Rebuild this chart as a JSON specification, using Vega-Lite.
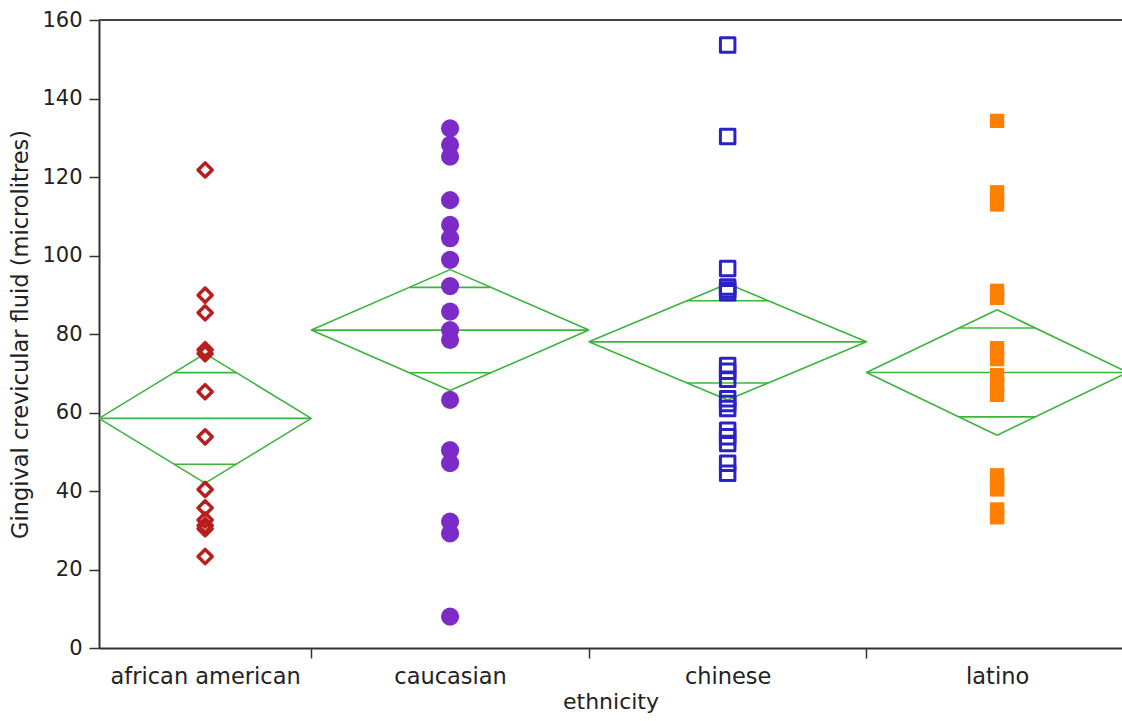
{
  "$schema": "https://vega.github.io/schema/vega-lite/v6.json",
  "width": 1023,
  "height": 628,
  "autosize": {"type": "none"},
  "padding": {"left": 99, "top": 20, "right": 0, "bottom": 73},
  "background": "white",
  "config": {
    "view": {"stroke": null},
    "font": "DejaVu Sans",
    "axis": {
      "grid": false,
      "domainColor": "#333333",
      "domainWidth": 2,
      "tickColor": "#333333",
      "tickWidth": 1.5,
      "labelColor": "#222222",
      "titleColor": "#222222",
      "titleFontWeight": "normal",
      "labelLimit": 400
    }
  },
  "datasets": {
    "obs": [
      {"ethnicity": "african american", "gcf": 121.8},
      {"ethnicity": "african american", "gcf": 89.9},
      {"ethnicity": "african american", "gcf": 85.4},
      {"ethnicity": "african american", "gcf": 76.0},
      {"ethnicity": "african american", "gcf": 75.0},
      {"ethnicity": "african american", "gcf": 65.3},
      {"ethnicity": "african american", "gcf": 53.8},
      {"ethnicity": "african american", "gcf": 40.4},
      {"ethnicity": "african american", "gcf": 35.7},
      {"ethnicity": "african american", "gcf": 32.6},
      {"ethnicity": "african american", "gcf": 31.2},
      {"ethnicity": "african american", "gcf": 30.4},
      {"ethnicity": "african american", "gcf": 23.3},
      {"ethnicity": "caucasian", "gcf": 132.4},
      {"ethnicity": "caucasian", "gcf": 128.2},
      {"ethnicity": "caucasian", "gcf": 125.2},
      {"ethnicity": "caucasian", "gcf": 114.1},
      {"ethnicity": "caucasian", "gcf": 107.8},
      {"ethnicity": "caucasian", "gcf": 104.4},
      {"ethnicity": "caucasian", "gcf": 98.9},
      {"ethnicity": "caucasian", "gcf": 92.2},
      {"ethnicity": "caucasian", "gcf": 85.7},
      {"ethnicity": "caucasian", "gcf": 81.0},
      {"ethnicity": "caucasian", "gcf": 78.5},
      {"ethnicity": "caucasian", "gcf": 63.2},
      {"ethnicity": "caucasian", "gcf": 50.4},
      {"ethnicity": "caucasian", "gcf": 47.1},
      {"ethnicity": "caucasian", "gcf": 32.2},
      {"ethnicity": "caucasian", "gcf": 29.2},
      {"ethnicity": "caucasian", "gcf": 8.0},
      {"ethnicity": "chinese", "gcf": 153.6},
      {"ethnicity": "chinese", "gcf": 130.3},
      {"ethnicity": "chinese", "gcf": 96.7},
      {"ethnicity": "chinese", "gcf": 92.0},
      {"ethnicity": "chinese", "gcf": 91.2},
      {"ethnicity": "chinese", "gcf": 90.5},
      {"ethnicity": "chinese", "gcf": 72.0},
      {"ethnicity": "chinese", "gcf": 70.5},
      {"ethnicity": "chinese", "gcf": 68.5},
      {"ethnicity": "chinese", "gcf": 63.5},
      {"ethnicity": "chinese", "gcf": 62.3},
      {"ethnicity": "chinese", "gcf": 61.0},
      {"ethnicity": "chinese", "gcf": 55.5},
      {"ethnicity": "chinese", "gcf": 53.8},
      {"ethnicity": "chinese", "gcf": 52.1},
      {"ethnicity": "chinese", "gcf": 47.1},
      {"ethnicity": "chinese", "gcf": 44.5},
      {"ethnicity": "latino", "gcf": 134.3},
      {"ethnicity": "latino", "gcf": 116.1},
      {"ethnicity": "latino", "gcf": 113.0},
      {"ethnicity": "latino", "gcf": 91.0},
      {"ethnicity": "latino", "gcf": 89.2},
      {"ethnicity": "latino", "gcf": 76.4},
      {"ethnicity": "latino", "gcf": 73.6},
      {"ethnicity": "latino", "gcf": 69.5},
      {"ethnicity": "latino", "gcf": 67.0},
      {"ethnicity": "latino", "gcf": 64.5},
      {"ethnicity": "latino", "gcf": 44.0},
      {"ethnicity": "latino", "gcf": 42.0},
      {"ethnicity": "latino", "gcf": 40.4},
      {"ethnicity": "latino", "gcf": 35.3},
      {"ethnicity": "latino", "gcf": 34.0},
      {"ethnicity": "latino", "gcf": 33.3}
    ],
    "groups": [
      {"ethnicity": "african american", "n": 13, "mean": 58.5, "lower": 42.0, "upper": 75.0},
      {"ethnicity": "caucasian", "n": 17, "mean": 81.0, "lower": 65.6, "upper": 96.4},
      {"ethnicity": "chinese", "n": 17, "mean": 78.0, "lower": 63.2, "upper": 92.8},
      {"ethnicity": "latino", "n": 16, "mean": 70.2, "lower": 54.2, "upper": 86.2}
    ]
  },
  "layer": [
    {
      "data": {"name": "groups"},
      "transform": [
        {"window": [{"op": "sum", "field": "n", "as": "x1"}], "sort": [{"field": "ethnicity", "order": "ascending"}], "frame": [null, 0]},
        {"calculate": "datum.x1 - datum.n", "as": "x0"},
        {"calculate": "datum.x1 - datum.n / 2", "as": "xc"},
        {"calculate": "(datum.upper - datum.mean) * SQRT1_2", "as": "ov"},
        {"calculate": "datum.mean + datum.ov", "as": "ovHi"},
        {"calculate": "datum.mean - datum.ov", "as": "ovLo"},
        {"calculate": "datum.xc - datum.n / 2 * (1 - SQRT1_2)", "as": "ovL"},
        {"calculate": "datum.xc + datum.n / 2 * (1 - SQRT1_2)", "as": "ovR"}
      ],
      "layer": [
        {
          "mark": {"type": "rule", "color": "#3cb43c", "strokeWidth": 1.6, "clip": true},
          "encoding": {
            "x": {"field": "x0", "type": "quantitative", "scale": {"domain": [0, 62.65], "nice": false, "zero": false},
              "axis": {
                "values": [6.5, 13, 21.5, 30, 38.5, 47, 55],
                "labelExpr": "datum.value == 6.5 ? 'african american' : datum.value == 21.5 ? 'caucasian' : datum.value == 38.5 ? 'chinese' : datum.value == 55 ? 'latino' : ''",
                "tickOpacity": {"condition": {"test": "datum.value == 13 || datum.value == 30 || datum.value == 47", "value": 1}, "value": 0},
                "tickSize": 10,
                "labelPadding": 7,
                "labelFontSize": 22.5,
                "labelFlush": false,
                "labelOverlap": false,
                "labelBound": false,
                "title": "ethnicity",
                "titleFontSize": 22,
                "titlePadding": 4
              }},
            "x2": {"field": "x1"},
            "y": {"field": "mean", "type": "quantitative", "scale": {"domain": [0, 160], "nice": false},
              "axis": {
                "values": [0, 20, 40, 60, 80, 100, 120, 140, 160],
                "tickSize": 10,
                "labelPadding": 7,
                "labelFontSize": 21,
                "title": "Gingival crevicular fluid (microlitres)",
                "titleFontSize": 22.5,
                "titlePadding": 9
              }}
          }
        },
        {
          "mark": {"type": "rule", "color": "#3cb43c", "strokeWidth": 1.6, "clip": true},
          "encoding": {
            "x": {"field": "x0", "type": "quantitative", "scale": {"domain": [0, 62.65], "nice": false, "zero": false}},
            "x2": {"field": "xc"},
            "y": {"field": "mean", "type": "quantitative", "scale": {"domain": [0, 160], "nice": false}},
            "y2": {"field": "upper"}
          }
        },
        {
          "mark": {"type": "rule", "color": "#3cb43c", "strokeWidth": 1.6, "clip": true},
          "encoding": {
            "x": {"field": "xc", "type": "quantitative", "scale": {"domain": [0, 62.65], "nice": false, "zero": false}},
            "x2": {"field": "x1"},
            "y": {"field": "upper", "type": "quantitative", "scale": {"domain": [0, 160], "nice": false}},
            "y2": {"field": "mean"}
          }
        },
        {
          "mark": {"type": "rule", "color": "#3cb43c", "strokeWidth": 1.6, "clip": true},
          "encoding": {
            "x": {"field": "x1", "type": "quantitative", "scale": {"domain": [0, 62.65], "nice": false, "zero": false}},
            "x2": {"field": "xc"},
            "y": {"field": "mean", "type": "quantitative", "scale": {"domain": [0, 160], "nice": false}},
            "y2": {"field": "lower"}
          }
        },
        {
          "mark": {"type": "rule", "color": "#3cb43c", "strokeWidth": 1.6, "clip": true},
          "encoding": {
            "x": {"field": "xc", "type": "quantitative", "scale": {"domain": [0, 62.65], "nice": false, "zero": false}},
            "x2": {"field": "x0"},
            "y": {"field": "lower", "type": "quantitative", "scale": {"domain": [0, 160], "nice": false}},
            "y2": {"field": "mean"}
          }
        },
        {
          "mark": {"type": "rule", "color": "#3cb43c", "strokeWidth": 1.6, "clip": true},
          "encoding": {
            "x": {"field": "ovL", "type": "quantitative", "scale": {"domain": [0, 62.65], "nice": false, "zero": false}},
            "x2": {"field": "ovR"},
            "y": {"field": "ovHi", "type": "quantitative", "scale": {"domain": [0, 160], "nice": false}}
          }
        },
        {
          "mark": {"type": "rule", "color": "#3cb43c", "strokeWidth": 1.6, "clip": true},
          "encoding": {
            "x": {"field": "ovL", "type": "quantitative", "scale": {"domain": [0, 62.65], "nice": false, "zero": false}},
            "x2": {"field": "ovR"},
            "y": {"field": "ovLo", "type": "quantitative", "scale": {"domain": [0, 160], "nice": false}}
          }
        }
      ]
    },
    {
      "data": {"name": "obs"},
      "transform": [
        {"joinaggregate": [{"op": "count", "as": "n"}], "groupby": ["ethnicity"]},
        {"window": [{"op": "count", "as": "cum"}], "sort": [{"field": "ethnicity", "order": "ascending"}], "frame": [null, 0]},
        {"calculate": "datum.cum - datum.n / 2", "as": "xc"}
      ],
      "layer": [
        {
          "transform": [{"filter": "datum.ethnicity == 'african american'"}],
          "mark": {"type": "point", "shape": "diamond", "size": 200, "filled": false, "stroke": "#b81e1e", "strokeWidth": 3.5, "strokeJoin": "round", "opacity": 1},
          "encoding": {
            "x": {"field": "xc", "type": "quantitative", "scale": {"domain": [0, 62.65], "nice": false, "zero": false}},
            "y": {"field": "gcf", "type": "quantitative", "scale": {"domain": [0, 160], "nice": false}}
          }
        },
        {
          "transform": [{"filter": "datum.ethnicity == 'caucasian'"}],
          "mark": {"type": "point", "shape": "circle", "size": 330, "filled": true, "fill": "#7b2cc6", "opacity": 1},
          "encoding": {
            "x": {"field": "xc", "type": "quantitative", "scale": {"domain": [0, 62.65], "nice": false, "zero": false}},
            "y": {"field": "gcf", "type": "quantitative", "scale": {"domain": [0, 160], "nice": false}}
          }
        },
        {
          "transform": [{"filter": "datum.ethnicity == 'chinese'"}],
          "mark": {"type": "point", "shape": "square", "size": 210, "filled": false, "stroke": "#2b22c4", "strokeWidth": 3, "strokeJoin": "round", "opacity": 1},
          "encoding": {
            "x": {"field": "xc", "type": "quantitative", "scale": {"domain": [0, 62.65], "nice": false, "zero": false}},
            "y": {"field": "gcf", "type": "quantitative", "scale": {"domain": [0, 160], "nice": false}}
          }
        },
        {
          "transform": [{"filter": "datum.ethnicity == 'latino'"}],
          "mark": {"type": "point", "shape": "square", "size": 205, "filled": true, "fill": "#ff8000", "opacity": 1},
          "encoding": {
            "x": {"field": "xc", "type": "quantitative", "scale": {"domain": [0, 62.65], "nice": false, "zero": false}},
            "y": {"field": "gcf", "type": "quantitative", "scale": {"domain": [0, 160], "nice": false}}
          }
        }
      ]
    },
    {
      "data": {"values": [{"top": 160}]},
      "mark": {"type": "rule", "color": "#444444", "strokeWidth": 2},
      "encoding": {
        "y": {"field": "top", "type": "quantitative", "scale": {"domain": [0, 160], "nice": false}}
      }
    }
  ]
}
